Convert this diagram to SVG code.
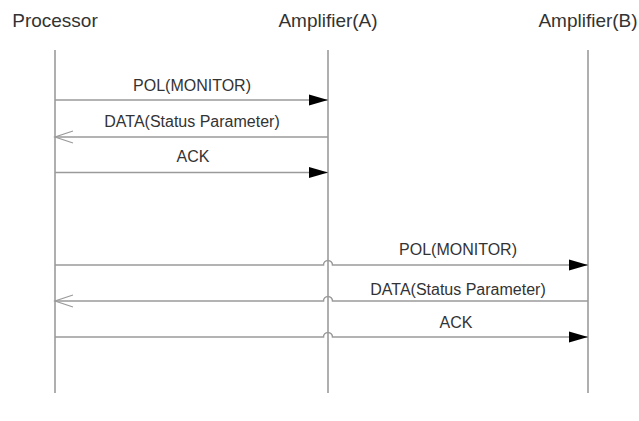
<svg xmlns="http://www.w3.org/2000/svg" width="639" height="421" viewBox="0 0 639 421">
<style>
.hdr{font-family:"Liberation Sans",Arial,sans-serif;font-size:19px;fill:#333;text-anchor:middle}
.lbl{font-family:"Liberation Sans",Arial,sans-serif;font-size:16px;fill:#333;text-anchor:middle}
.life{stroke:#7a7a7a;stroke-width:1.2;fill:none}
.msg{stroke:#9a9a9a;stroke-width:1.5;fill:none}
.req{marker-end:url(#solid)}
.rsp{marker-end:url(#open)}
</style>
<defs>
<marker id="solid" markerUnits="userSpaceOnUse" markerWidth="20" markerHeight="12" refX="19" refY="5.5" orient="auto" overflow="visible">
<path d="M0,0 L19,5.5 L0,11 z" fill="#000"/>
</marker>
<marker id="open" markerUnits="userSpaceOnUse" markerWidth="20" markerHeight="14" refX="18" refY="6" orient="auto" overflow="visible">
<path d="M0,0 L18,6 L0,12" fill="none" stroke="#9a9a9a" stroke-width="1.2"/>
</marker>
</defs>
<rect width="639" height="421" fill="#fff"/>
<g id="processor">
<text class="hdr" x="55" y="27">Processor</text>
<line class="life" x1="55" y1="50" x2="55" y2="393"/>
</g>
<g id="amplifierA">
<text class="hdr" x="328" y="27">Amplifier(A)</text>
<line class="life" x1="328" y1="50" x2="328" y2="393"/>
</g>
<g id="amplifierB">
<text class="hdr" x="588" y="27">Amplifier(B)</text>
<line class="life" x1="588" y1="50" x2="588" y2="393"/>
</g>
<g id="connectors">
<path class="msg req" d="M55,100 H328"/>
<text class="lbl" x="192" y="91">POL(MONITOR)</text>
<path class="msg rsp" d="M328,137 H55"/>
<text class="lbl" x="192" y="127">DATA(Status Parameter)</text>
<path class="msg req" d="M55,172.5 H328"/>
<text class="lbl" x="193" y="162">ACK</text>
<path class="msg req" d="M55,265 H323.5 A4.5,4.5 0 0 1 332.5,265 H588"/>
<text class="lbl" x="458" y="255">POL(MONITOR)</text>
<path class="msg rsp" d="M588,301 H332.5 A4.5,4.5 0 0 0 323.5,301 H55"/>
<text class="lbl" x="458" y="295">DATA(Status Parameter)</text>
<path class="msg req" d="M55,337 H323.5 A4.5,4.5 0 0 1 332.5,337 H588"/>
<text class="lbl" x="456" y="328">ACK</text>
</g>
</svg>
